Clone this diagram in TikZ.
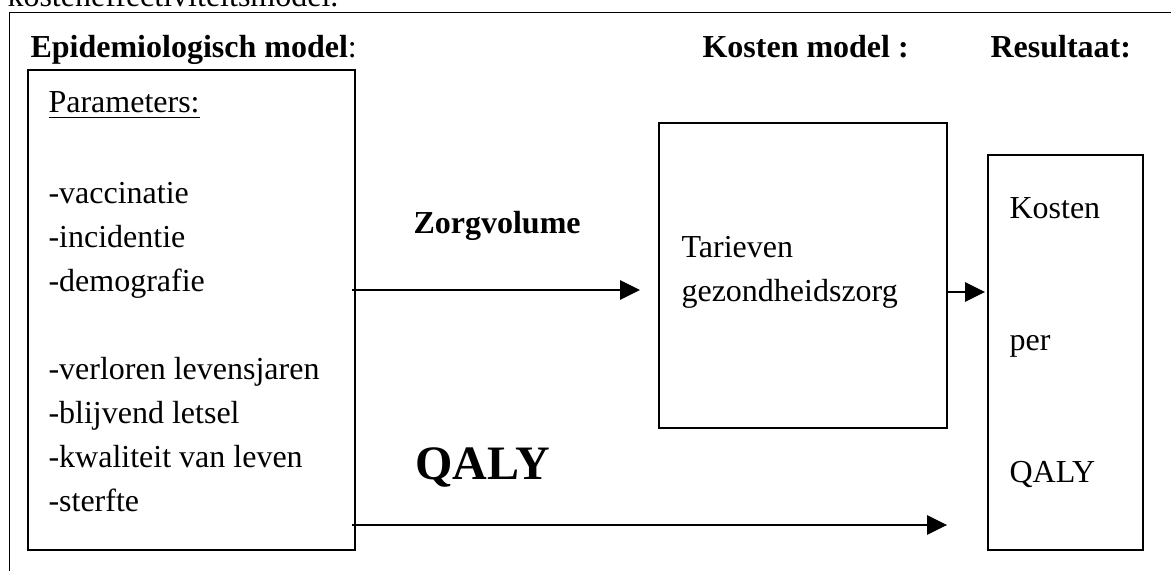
\documentclass[tikz,border=0pt]{standalone}
\usepackage{fontspec}
\setmainfont{Liberation Serif}
\usetikzlibrary{arrows.meta}
\begin{document}
\begin{tikzpicture}[x=0.375pt,y=-0.375pt,
  box/.style={draw,line width=0.5pt,inner sep=0pt,outer sep=0pt},
  txt/.style={anchor=base west,inner sep=0pt,font=\fontsize{12}{14}\selectfont},
  btxt/.style={txt,font=\fontsize{12}{14}\selectfont\bfseries},
  arr/.style={line width=0.45pt,-{Triangle[length=7.5pt,width=7.3pt]}}]
\useasboundingbox (0,0) rectangle (1171,570);
\clip (0,0) rectangle (1171,570);
% outer frame (extends beyond the picture)
\draw[line width=0.5pt] (1200,12.5) -- (9.5,12.5) -- (9.5,600);
\node[txt] (cap) at (7,7) {kosteneffectiviteitsmodel.};
% headings
\node[txt] (h1) at (30,58) {\bfseries Epidemiologisch model\mdseries:};
\node[btxt] (h2) at (702,58) {Kosten model :};
\node[btxt] (h3) at (990,58) {Resultaat:};
% boxes
\node[box,minimum width=122.6pt,minimum height=180pt] (epi) at (191.5,310) {};
\node[box,minimum width=108pt,minimum height=114.4pt] (kos) at (803,275.5) {};
\node[box,minimum width=58.1pt,minimum height=148.1pt] (res) at (1065.5,352.5) {};
% epidemiological parameters
\node[txt] (par) at (48,113) {\underline{Parameters:}};
\node[txt] (p1) at (48,203) {-vaccinatie};
\node[txt] (p2) at (48,247) {-incidentie};
\node[txt] (p3) at (48,291) {-demografie};
\node[txt] (p4) at (48,379) {-verloren levensjaren};
\node[txt] (p5) at (48,423) {-blijvend letsel};
\node[txt] (p6) at (48,467) {-kwaliteit van leven};
\node[txt] (p7) at (48,511) {-sterfte};
% cost model
\node[txt] (t1) at (681,257) {Tarieven};
\node[txt] (t2) at (681,301) {gezondheidszorg};
% result
\node[txt] (r1) at (1009,218) {Kosten};
\node[txt] (r2) at (1009,350) {per};
\node[txt] (r3) at (1009,482) {QALY};
% arrow labels
\node[btxt] (zv) at (413,233) {Zorgvolume};
\node[txt,font=\fontsize{18}{20}\selectfont\bfseries] (qa) at (415,479) {QALY};
% connectors
\coordinate (zs) at (352,290);
\coordinate (ze) at (640,290);
\coordinate (ks) at (947,292);
\coordinate (ke) at (985,292);
\coordinate (qs) at (352,525);
\coordinate (qe) at (947,525);
\draw[arr] (zs) -- (ze);
\draw[arr] (ks) -- (ke);
\draw[arr] (qs) -- (qe);
\end{tikzpicture}
\end{document}
